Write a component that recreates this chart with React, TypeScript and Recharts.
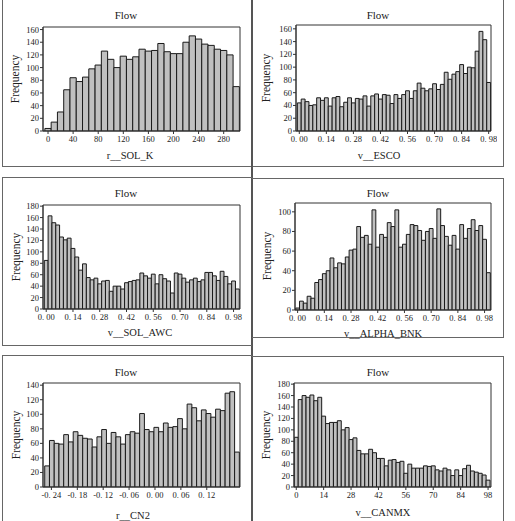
import React from 'react';
import { BarChart, Bar, XAxis, YAxis, ReferenceArea } from 'recharts';

// ---------- data ----------
const solKBins = [0, 10, 20, 30, 40, 50, 60, 70, 80, 90, 100, 110, 120, 130, 140, 150, 160, 170, 180, 190, 200, 210, 220, 230, 240, 250, 260, 270, 280, 290, 300];
const solKCounts = [4, 14, 30, 65, 84, 78, 85, 98, 104, 126, 113, 100, 118, 113, 117, 129, 126, 127, 138, 125, 122, 122, 140, 150, 145, 137, 135, 129, 127, 120, 70];
const solKTicks = [0, 40, 80, 120, 160, 200, 240, 280];

const escoBins = [0, 0.02, 0.04, 0.06, 0.08, 0.1, 0.12, 0.14, 0.16, 0.18, 0.2, 0.22, 0.24, 0.26, 0.28, 0.3, 0.32, 0.34, 0.36, 0.38, 0.4, 0.42, 0.44, 0.46, 0.48, 0.5, 0.52, 0.54, 0.56, 0.58, 0.6, 0.62, 0.64, 0.66, 0.68, 0.7, 0.72, 0.74, 0.76, 0.78, 0.8, 0.82, 0.84, 0.86, 0.88, 0.9, 0.92, 0.94, 0.96, 0.98];
const escoCounts = [44, 50, 46, 40, 41, 52, 48, 52, 39, 52, 54, 38, 45, 52, 44, 51, 50, 55, 39, 55, 58, 50, 57, 56, 43, 57, 51, 57, 63, 51, 63, 75, 67, 63, 66, 74, 65, 73, 92, 81, 89, 93, 104, 90, 100, 99, 125, 156, 143, 76];

const unitBins = [0, 0.02, 0.04, 0.06, 0.08, 0.1, 0.12, 0.14, 0.16, 0.18, 0.2, 0.22, 0.24, 0.26, 0.28, 0.3, 0.32, 0.34, 0.36, 0.38, 0.4, 0.42, 0.44, 0.46, 0.48, 0.5, 0.52, 0.54, 0.56, 0.58, 0.6, 0.62, 0.64, 0.66, 0.68, 0.7, 0.72, 0.74, 0.76, 0.78, 0.8, 0.82, 0.84, 0.86, 0.88, 0.9, 0.92, 0.94, 0.96, 0.98, 1.0];
const awcCounts = [85, 163, 151, 147, 126, 121, 124, 106, 91, 68, 79, 55, 51, 54, 44, 49, 50, 31, 40, 40, 35, 46, 48, 50, 51, 63, 58, 54, 61, 44, 60, 53, 49, 28, 63, 61, 54, 47, 51, 54, 48, 51, 64, 64, 58, 50, 66, 57, 44, 49, 35];
const alphaCounts = [2, 9, 7, 14, 12, 28, 31, 37, 40, 53, 43, 48, 47, 54, 61, 62, 85, 74, 76, 67, 102, 64, 77, 74, 89, 85, 102, 64, 67, 77, 87, 86, 81, 71, 80, 83, 73, 103, 86, 75, 66, 76, 62, 87, 73, 83, 92, 81, 86, 72, 38];
const unitTicks = [0, 0.14, 0.28, 0.42, 0.56, 0.7, 0.84, 0.98];

const cn2Bins = [-0.25, -0.239, -0.228, -0.217, -0.206, -0.195, -0.184, -0.173, -0.162, -0.151, -0.14, -0.129, -0.118, -0.107, -0.096, -0.085, -0.074, -0.063, -0.052, -0.041, -0.03, -0.019, -0.008, 0.003, 0.014, 0.025, 0.036, 0.047, 0.058, 0.069, 0.08, 0.091, 0.102, 0.113, 0.124, 0.135, 0.146, 0.157, 0.168, 0.179, 0.19];
const cn2Counts = [29, 64, 60, 59, 72, 62, 76, 71, 67, 66, 55, 69, 79, 60, 75, 69, 59, 72, 76, 74, 101, 79, 76, 82, 76, 88, 82, 83, 94, 80, 114, 109, 91, 106, 101, 96, 107, 105, 129, 131, 48];
const cn2Ticks = [-0.24, -0.18, -0.12, -0.06, 0, 0.06, 0.12];

const canmxBins = [0, 2, 4, 6, 8, 10, 12, 14, 16, 18, 20, 22, 24, 26, 28, 30, 32, 34, 36, 38, 40, 42, 44, 46, 48, 50, 52, 54, 56, 58, 60, 62, 64, 66, 68, 70, 72, 74, 76, 78, 80, 82, 84, 86, 88, 90, 92, 94, 96, 98];
const canmxCounts = [87, 153, 160, 157, 161, 151, 157, 124, 111, 113, 113, 116, 100, 104, 83, 86, 64, 58, 58, 66, 60, 50, 50, 37, 47, 48, 43, 45, 24, 40, 33, 33, 33, 37, 36, 37, 30, 28, 33, 30, 20, 30, 20, 32, 38, 28, 26, 24, 21, 12];
const canmxTicks = [0, 14, 28, 42, 56, 70, 84, 98];

const ticks160 = [0, 20, 40, 60, 80, 100, 120, 140, 160];
const ticks180 = [0, 20, 40, 60, 80, 100, 120, 140, 160, 180];
const ticks100 = [0, 20, 40, 60, 80, 100];
const ticks140 = [0, 20, 40, 60, 80, 100, 120, 140];

const titleText = 'Flow';
const yLabelText = 'Frequency';

// ---------- styles ----------
const FONT = '"Liberation Serif", "DejaVu Serif", serif';
const TXT = '#222';
const intFmt = (v: number) => String(Math.round(v));
const decFmt = (v: number) => v.toFixed(2).replace('.', '. ');

type Box = { l: number; t: number; r: number; b: number };

function Hist(props: {
  bins: number[];
  counts: number[];
  plot: Box;
  xDomain: [number, number];
  xTicks: number[];
  yDomain: [number, number];
  yTicks: number[];
  fmt: (v: number) => string;
  binWidth: number;
}) {
  const { bins, counts, plot, xDomain, xTicks, yDomain, yTicks, fmt, binWidth } = props;
  const ML = 40, MT = 6, MR = 6, MB = 24;
  const YW = 30, XH = 20;
  const pw = plot.r - plot.l;
  const ph = plot.b - plot.t;
  const data = bins.map((b, i) => ({ x: b, n: counts[i] }));
  const barSize = (pw * binWidth) / (xDomain[1] - xDomain[0]) - 0.01;
  const tickStyle = { fontSize: 8.5, fill: TXT, fontFamily: FONT };
  return (
    <div style={{ position: 'absolute', left: plot.l - ML, top: plot.t - MT }}>
      <BarChart
        width={pw + ML + MR}
        height={ph + MT + MB}
        data={data}
        margin={{ top: MT, right: MR, left: ML - YW, bottom: MB - XH }}
        barCategoryGap={0}
        barGap={0}
      >
        <XAxis
          dataKey="x"
          type="number"
          domain={xDomain}
          ticks={xTicks}
          allowDataOverflow
          interval={0}
          height={XH}
          tickSize={3}
          tickMargin={2}
          tickFormatter={fmt}
          tick={tickStyle}
          stroke="#333"
        />
        <YAxis
          type="number"
          domain={yDomain}
          ticks={yTicks}
          allowDataOverflow
          interval={0}
          width={YW}
          tickSize={3}
          tickMargin={1}
          tick={tickStyle}
          stroke="#333"
        />
        <Bar dataKey="n" fill="#c0c0c0" stroke="#1a1a1a" strokeWidth={1} barSize={barSize} isAnimationActive={false} />
        <ReferenceArea
          x1={xDomain[0]}
          x2={xDomain[1]}
          y1={yDomain[0]}
          y2={yDomain[1]}
          fill="none"
          fillOpacity={0}
          stroke="#333"
          strokeOpacity={1}
          ifOverflow="visible"
        />
      </BarChart>
    </div>
  );
}

type PanelText = { titleX: number; titleY: number; yLabX: number; yLabY: number; xLabX: number; xLabY: number; xLabel: string };

const texts: PanelText[] = [
  { titleX: 126, titleY: 15, yLabX: 15, yLabY: 79, xLabX: 130, xLabY: 155, xLabel: 'r__SOL_K' },
  { titleX: 378, titleY: 15, yLabX: 266, yLabY: 78, xLabX: 379, xLabY: 155, xLabel: 'v__ESCO' },
  { titleX: 126, titleY: 193, yLabX: 16, yLabY: 257, xLabX: 140, xLabY: 332, xLabel: 'v__SOL_AWC' },
  { titleX: 378, titleY: 193, yLabX: 267, yLabY: 256, xLabX: 383, xLabY: 333, xLabel: 'v__ALPHA_BNK' },
  { titleX: 126, titleY: 372, yLabX: 16, yLabY: 435, xLabX: 133, xLabY: 515, xLabel: 'r__CN2' },
  { titleX: 378, titleY: 372, yLabX: 266, yLabY: 435, xLabX: 383, xLabY: 512, xLabel: 'v__CANMX' },
];

function Overlay() {
  const line = '#666';
  return (
    <svg width={515} height={521} style={{ position: 'absolute', left: 0, top: 0 }}>
      <rect x={0} y={0} width={515} height={521} fill="#fff" />
      {/* panel frames */}
      <line x1={2.5} y1={0} x2={2.5} y2={166} stroke={line} />
      <line x1={2} y1={166.5} x2={503} y2={166.5} stroke={line} />
      <line x1={252} y1={0} x2={252} y2={521} stroke="#555" strokeWidth={2} />
      <line x1={503.5} y1={0} x2={503.5} y2={167} stroke={line} />

      <line x1={2} y1={177.5} x2={252} y2={177.5} stroke={line} />
      <line x1={2.5} y1={177} x2={2.5} y2={346} stroke={line} />
      <line x1={2} y1={345.5} x2={252} y2={345.5} stroke={line} />
      <line x1={252} y1={178.5} x2={504} y2={178.5} stroke={line} />
      <line x1={503.5} y1={178} x2={503.5} y2={338} stroke={line} />
      <line x1={252} y1={337.5} x2={504} y2={337.5} stroke={line} />

      <line x1={2} y1={355.5} x2={252} y2={355.5} stroke={line} />
      <line x1={2.5} y1={355} x2={2.5} y2={521} stroke={line} />
      <line x1={252} y1={356.5} x2={504} y2={356.5} stroke={line} />
      <line x1={503.5} y1={356} x2={503.5} y2={521} stroke={line} />

      {texts.map((t, i) => (
        <g key={i} fontFamily={FONT} fill={TXT}>
          <text x={t.titleX} y={t.titleY} textAnchor="middle" dominantBaseline="central" fontSize={11}>
            {titleText}
          </text>
          <text
            x={t.yLabX}
            y={t.yLabY}
            textAnchor="middle"
            dominantBaseline="central"
            fontSize={11.5}
            transform={`rotate(-90 ${t.yLabX} ${t.yLabY})`}
          >
            {yLabelText}
          </text>
          <text x={t.xLabX} y={t.xLabY} textAnchor="middle" dominantBaseline="central" fontSize={10.5}>
            {t.xLabel}
          </text>
        </g>
      ))}
    </svg>
  );
}

export default function App() {
  return (
    <div style={{ position: 'absolute', left: 0, top: 0, width: 515, height: 521, background: '#fff', overflow: 'hidden' }}>
      <Overlay />
      <Hist
        bins={solKBins}
        counts={solKCounts}
        plot={{ l: 43, t: 27, r: 240, b: 131 }}
        xDomain={[-8, 306]}
        xTicks={solKTicks}
        yDomain={[0, 164]}
        yTicks={ticks160}
        fmt={intFmt}
        binWidth={10}
      />
      <Hist
        bins={escoBins}
        counts={escoCounts}
        plot={{ l: 296, t: 25, r: 491, b: 131 }}
        xDomain={[-0.017, 0.992]}
        xTicks={unitTicks}
        yDomain={[0, 166]}
        yTicks={ticks160}
        fmt={decFmt}
        binWidth={0.02}
      />
      <Hist
        bins={unitBins}
        counts={awcCounts}
        plot={{ l: 43, t: 205, r: 240, b: 309 }}
        xDomain={[-0.0168, 1.0137]}
        xTicks={unitTicks}
        yDomain={[0, 182]}
        yTicks={ticks180}
        fmt={decFmt}
        binWidth={0.02}
      />
      <Hist
        bins={unitBins}
        counts={alphaCounts}
        plot={{ l: 295, t: 203, r: 491, b: 310 }}
        xDomain={[-0.0137, 1.0137]}
        xTicks={unitTicks}
        yDomain={[0, 109]}
        yTicks={ticks100}
        fmt={decFmt}
        binWidth={0.02}
      />
      <Hist
        bins={cn2Bins}
        counts={cn2Counts}
        plot={{ l: 43, t: 383, r: 240, b: 487 }}
        xDomain={[-0.2595, 0.197]}
        xTicks={cn2Ticks}
        yDomain={[0, 143]}
        yTicks={ticks140}
        fmt={decFmt}
        binWidth={0.011}
      />
      <Hist
        bins={canmxBins}
        counts={canmxCounts}
        plot={{ l: 294, t: 383, r: 491, b: 487 }}
        xDomain={[-1.15, 99.5]}
        xTicks={canmxTicks}
        yDomain={[0, 182]}
        yTicks={ticks180}
        fmt={intFmt}
        binWidth={2}
      />
    </div>
  );
}
